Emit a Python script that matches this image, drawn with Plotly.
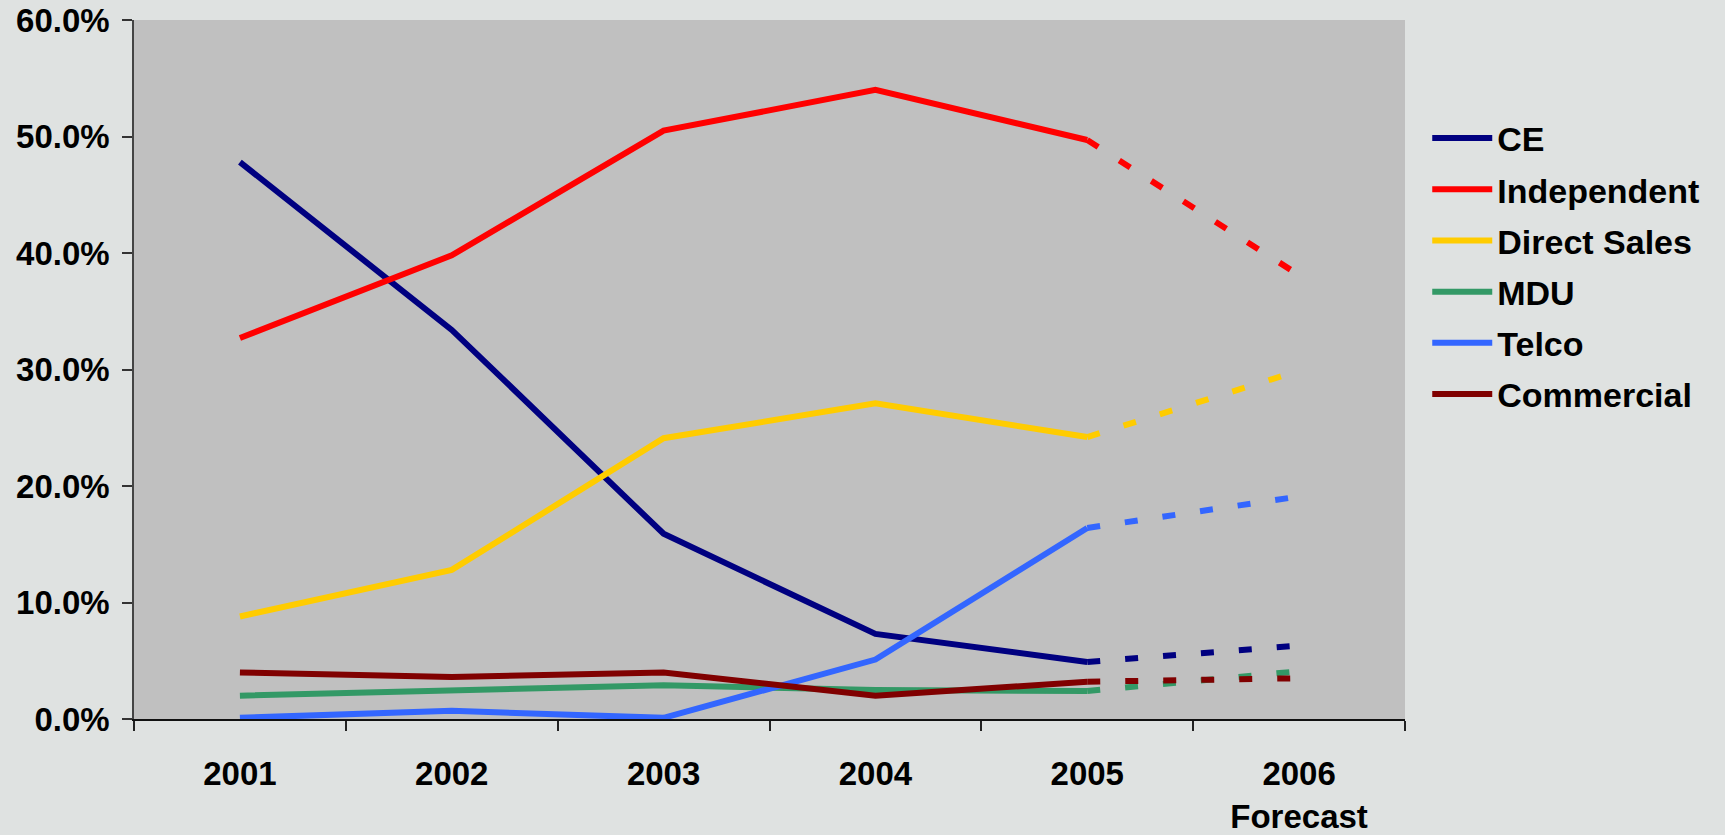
import plotly.graph_objects as go

years = ["2001", "2002", "2003", "2004", "2005", "2006"]
tick_labels = ["2001", "2002", "2003", "2004", "2005", "2006<br>Forecast"]
series_names = ["CE", "Independent", "Direct Sales", "MDU", "Telco", "Commercial"]

ce = [47.8, 33.4, 15.9, 7.3, 4.9, 6.3]
independent = [32.7, 39.8, 50.5, 54.0, 49.7, 38.1]
direct_sales = [8.8, 12.8, 24.1, 27.1, 24.2, 29.9]
mdu = [2.0, 2.4, 2.9, 2.5, 2.4, 4.1]
telco = [0.1, 0.7, 0.1, 5.1, 16.4, 19.1]
commercial = [4.0, 3.6, 4.0, 2.0, 3.2, 3.5]

series_values = [ce, independent, direct_sales, mdu, telco, commercial]
colors = ["#000080", "#ff0000", "#ffcc00", "#339966", "#3366ff", "#800000"]

FONT = "Liberation Sans, Arial, sans-serif"
LW = 6

fig = go.Figure()
for name, vals, col in zip(series_names, series_values, colors):
    # actual years: solid
    fig.add_trace(go.Scatter(
        x=tick_labels[:5], y=vals[:5], mode="lines", name=name,
        legendgroup=name, line=dict(color=col, width=LW),
    ))
    # forecast: dashed
    fig.add_trace(go.Scatter(
        x=tick_labels[4:], y=vals[4:], mode="lines", name=name,
        legendgroup=name, showlegend=False,
        line=dict(color=col, width=LW, dash="13px,25px"),
    ))

fig.update_layout(
    width=1725, height=835,
    margin=dict(l=134, r=320, t=20, b=116, autoexpand=False),
    paper_bgcolor="#dfe2e1",
    plot_bgcolor="#c0c0c0",
    font=dict(family=FONT, color="black"),
    showlegend=True,
    legend=dict(
        x=1.0175, xanchor="left", y=0.872, yanchor="top",
        font=dict(family=FONT, size=34, weight="bold", color="black"),
        bgcolor="rgba(0,0,0,0)", tracegroupgap=4, itemwidth=60,
        traceorder="grouped",
    ),
    xaxis=dict(
        type="category", categoryorder="array", categoryarray=tick_labels,
        range=[-0.5, 5.5], tickson="boundaries",
        ticks="outside", ticklen=10, tickwidth=1.5, tickcolor="#222",
        showline=True, linecolor="#111", linewidth=1.5,
        showgrid=False, zeroline=False,
        tickfont=dict(family=FONT, size=33, weight="bold", color="black"),
        ticklabelstandoff=25,
    ),
    yaxis=dict(
        range=[0, 60], dtick=10, tickformat=".1f", ticksuffix="%",
        ticks="outside", ticklen=10, tickwidth=1.5, tickcolor="#333",
        showline=True, linecolor="#444", linewidth=1.5,
        showgrid=False, zeroline=False,
        tickfont=dict(family=FONT, size=33, weight="bold", color="black"),
        ticklabelstandoff=6,
    ),
)

fig.write_html("out.html")
